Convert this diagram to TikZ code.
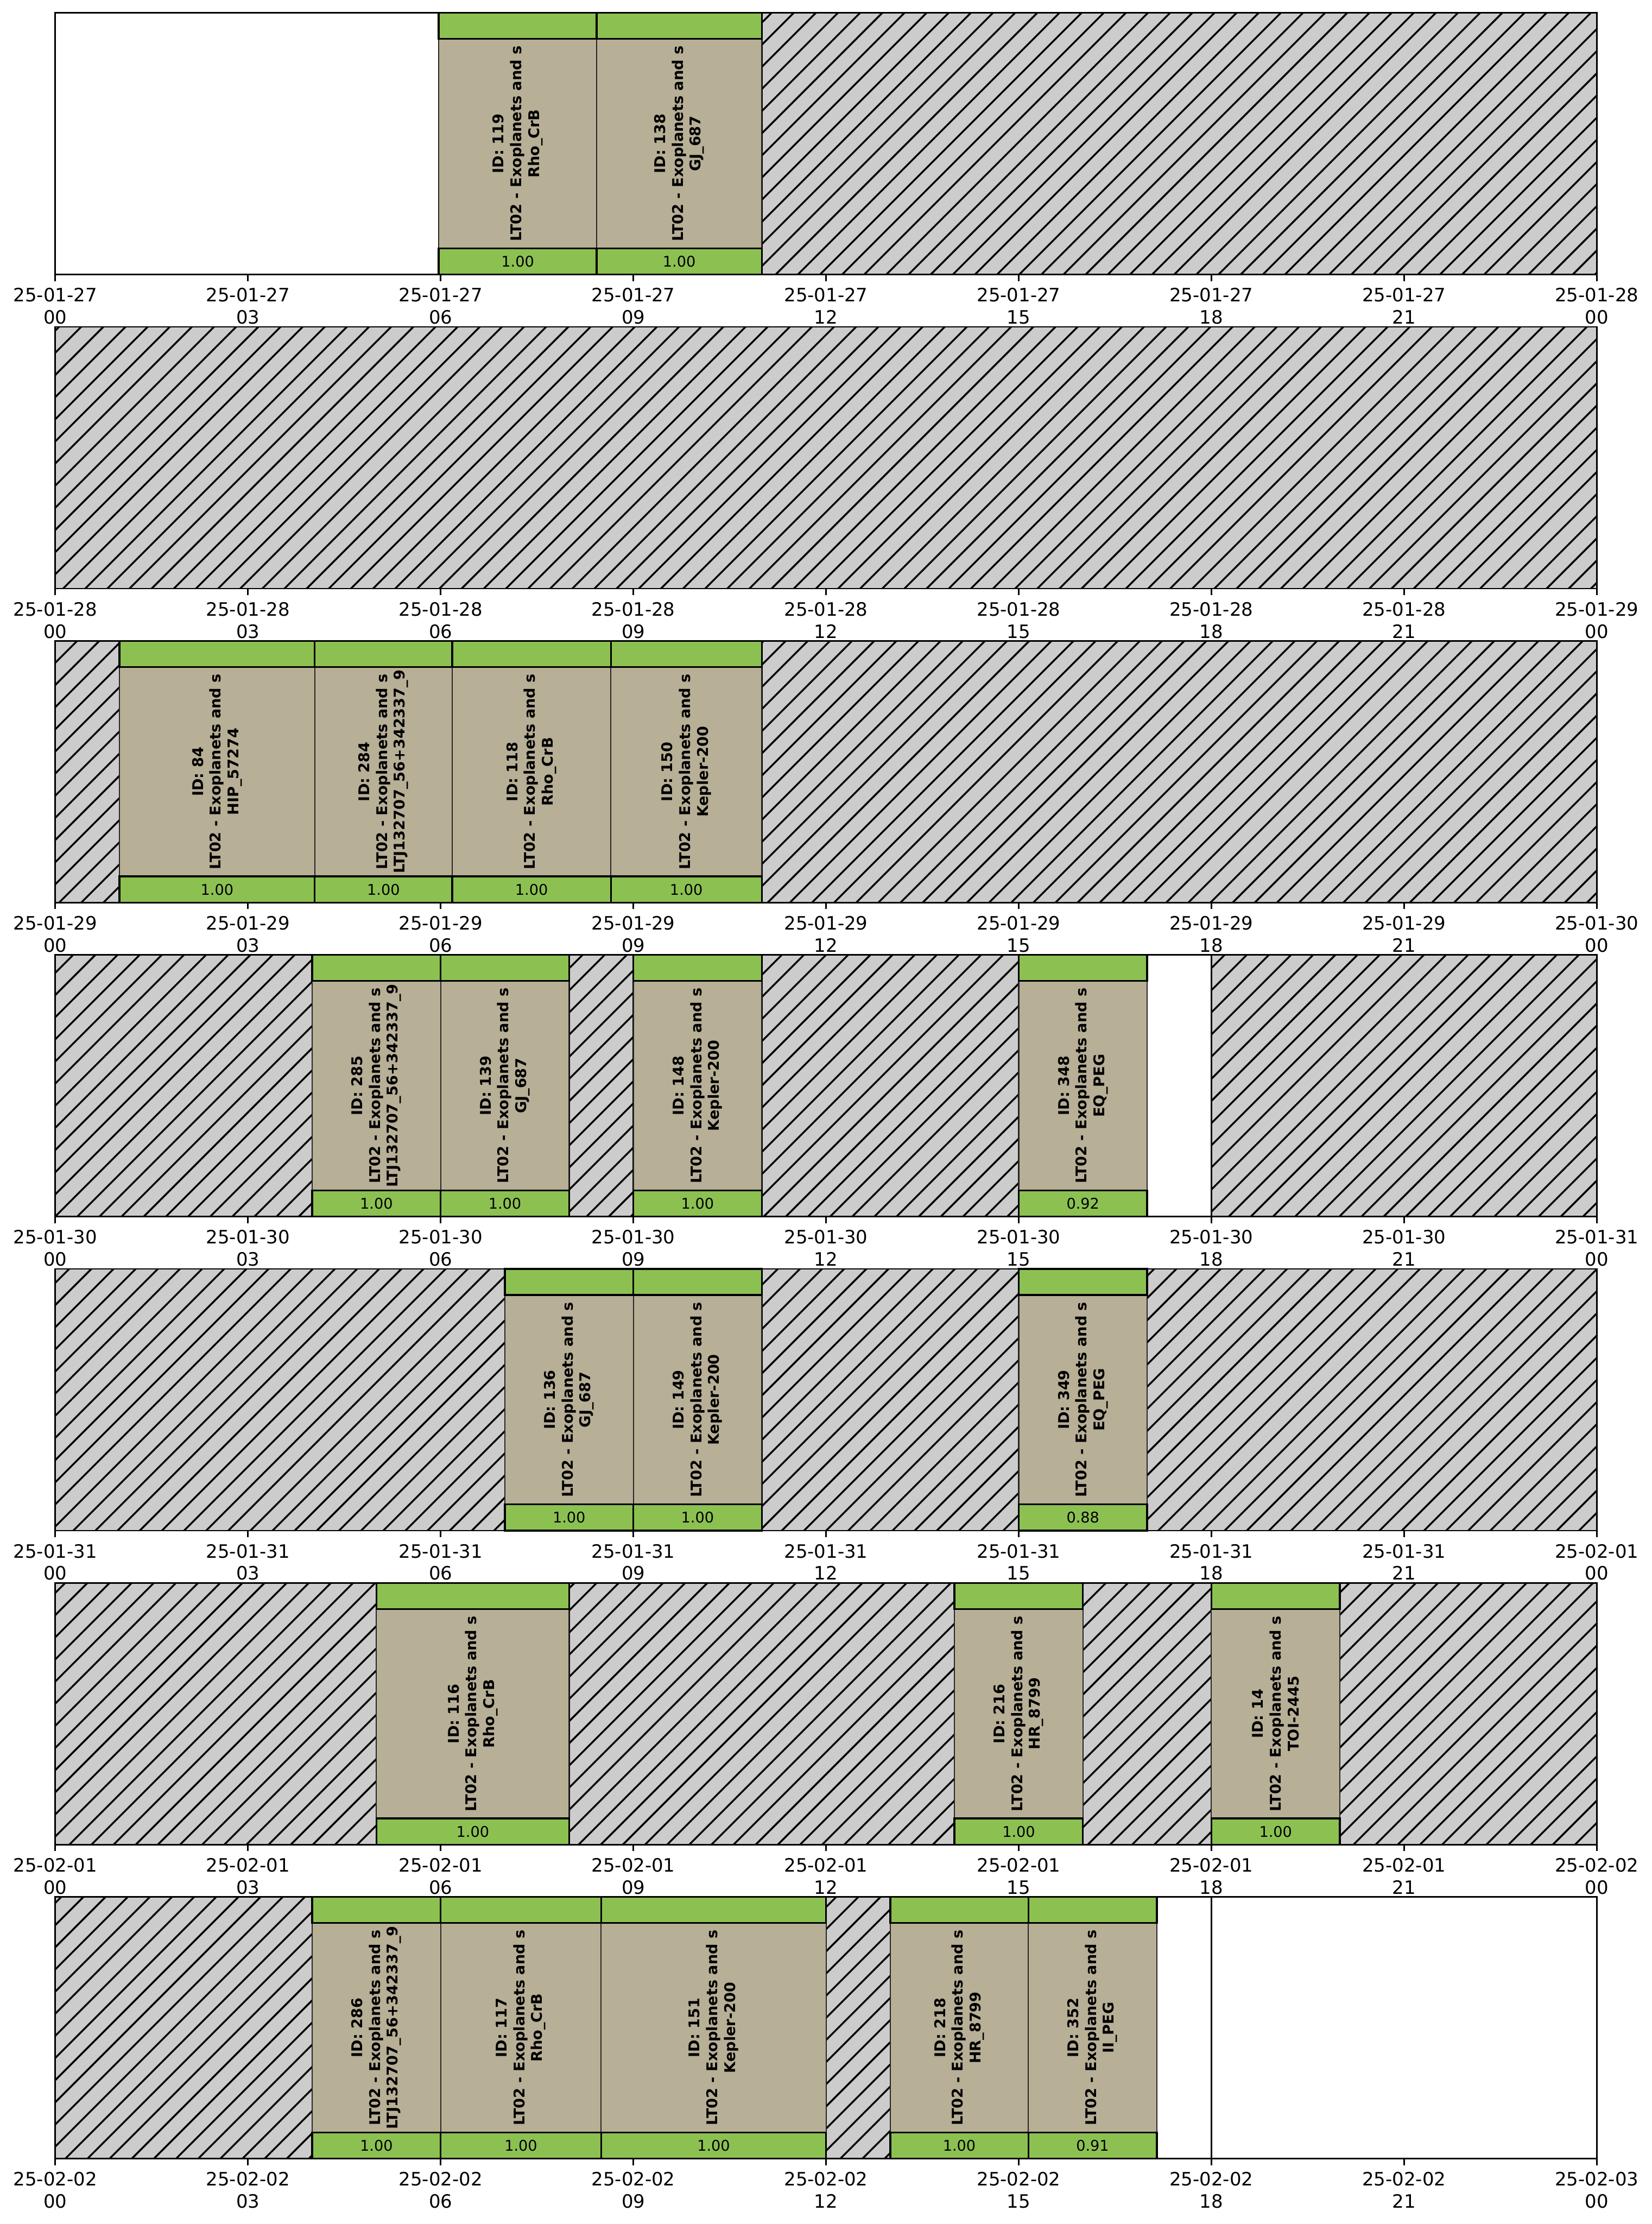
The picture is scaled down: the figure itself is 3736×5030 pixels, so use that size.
\documentclass[tikz,border=0pt]{standalone}
\usepackage{fontspec}
\setmainfont{DejaVu Sans}
\usepackage{xcolor}
\usepackage{tikz}
\usetikzlibrary{patterns.meta}

\definecolor{barGreen}{HTML}{8CC152}
\definecolor{slotTan}{HTML}{B7AF96}
\definecolor{offGray}{HTML}{CCCCCC}

\begin{document}
\begin{tikzpicture}[
    x=0.24pt, y=0.24pt,
    offtime/.style={
        draw=black,
        line width=0.8pt,
        fill=offGray,
        postaction={pattern={Lines[angle=45,distance=8.5pt,line width=1pt]}}
    },
    tanbox/.style={fill=slotTan, draw=black!85, line width=0.6pt},
    greenbar/.style={fill=barGreen, draw=black, line width=1pt},
    lbl/.style={
        rotate=90,
        align=center,
        inner sep=0pt,
        font=\fontsize{8}{9.6}\selectfont\bfseries
    },
    score/.style={inner sep=0pt, font=\fontsize{8}{9.6}\selectfont},
    ticklbl/.style={anchor=north, align=center, inner sep=0pt, yshift=-3.5pt,
        font=\fontsize{10}{12}\selectfont},
    axframe/.style={draw=black, line width=0.8pt}
]
\useasboundingbox (0,0) rectangle (3736,5030);

% unavailable time (hatched)
\foreach \k/\a/\b in {0/11/24, 1/0/24, 2/0/1, 2/11/24,
    3/0/4, 3/8/9, 3/11/15, 3/18/24,
    4/0/7, 4/11/15, 4/17/24,
    5/0/5, 5/8/14, 5/16/18, 5/20/24,
    6/0/4, 6/12/13}
  \filldraw[offtime] ({125+145.29*\a},{4409-710.2*\k}) rectangle ({125+145.29*\b},{5001-710.2*\k});
\draw[axframe] ({125+145.29*18},{4409-710.2*6}) -- ++(0,592);

% scheduled observations
\foreach \k/\a/\b/\id/\tgt/\sc in {
    0/5.97/8.43/119/Rho\_CrB/1.00,
    0/8.43/11/138/GJ\_687/1.00,
    2/1/4.04/84/HIP\_57274/1.00,
    2/4.04/6.18/284/LTJ132707\_56+342337\_9/1.00,
    2/6.18/8.65/118/Rho\_CrB/1.00,
    2/8.65/11/150/Kepler-200/1.00,
    3/4/6/285/LTJ132707\_56+342337\_9/1.00,
    3/6/8/139/GJ\_687/1.00,
    3/9/11/148/Kepler-200/1.00,
    3/15/17/348/EQ\_PEG/0.92,
    4/7/9/136/GJ\_687/1.00,
    4/9/11/149/Kepler-200/1.00,
    4/15/17/349/EQ\_PEG/0.88,
    5/5/8/116/Rho\_CrB/1.00,
    5/14/16/216/HR\_8799/1.00,
    5/18/20/14/TOI-2445/1.00,
    6/4/6/286/LTJ132707\_56+342337\_9/1.00,
    6/6/8.5/117/Rho\_CrB/1.00,
    6/8.5/12/151/Kepler-200/1.00,
    6/13/15.15/218/HR\_8799/1.00,
    6/15.15/17.15/352/II\_PEG/0.91}{
  \pgfmathsetmacro{\bxl}{125+145.29*\a}
  \pgfmathsetmacro{\bxr}{125+145.29*\b}
  \pgfmathsetmacro{\byb}{4409-710.2*\k}
  \filldraw[tanbox] (\bxl,\byb) rectangle (\bxr,{\byb+592});
  \node[lbl] (obs\id) at ({(\bxl+\bxr)/2},{\byb+296}) {ID: \id\\LT02 - Exoplanets and s\\\tgt};
  \filldraw[greenbar] (\bxl,\byb) rectangle (\bxr,{\byb+59.2});
  \filldraw[greenbar] (\bxl,{\byb+532.8}) rectangle (\bxr,{\byb+592});
  \node[score] (sc\id) at ({(\bxl+\bxr)/2},{\byb+29.6}) {\sc};
}

% frames and time axis
\foreach \k/\dlab/\dnext in {0/25-01-27/25-01-28, 1/25-01-28/25-01-29,
    2/25-01-29/25-01-30, 3/25-01-30/25-01-31, 4/25-01-31/25-02-01,
    5/25-02-01/25-02-02, 6/25-02-02/25-02-03}{
  \pgfmathsetmacro{\pyb}{4409-710.2*\k}
  \draw[axframe] (125,\pyb) rectangle (3612,{\pyb+592});
  \foreach \h/\hh in {0/00,3/03,6/06,9/09,12/12,15/15,18/18,21/21}
    \draw[axframe] ({125+145.29*\h},\pyb) -- ++(0,-14.6)
      node[ticklbl] (tk\k-\h) {\dlab\\\hh};
  \draw[axframe] (3612,\pyb) -- ++(0,-14.6)
    node[ticklbl] (tk\k-24) {\dnext\\00};
}
\end{tikzpicture}
\end{document}
